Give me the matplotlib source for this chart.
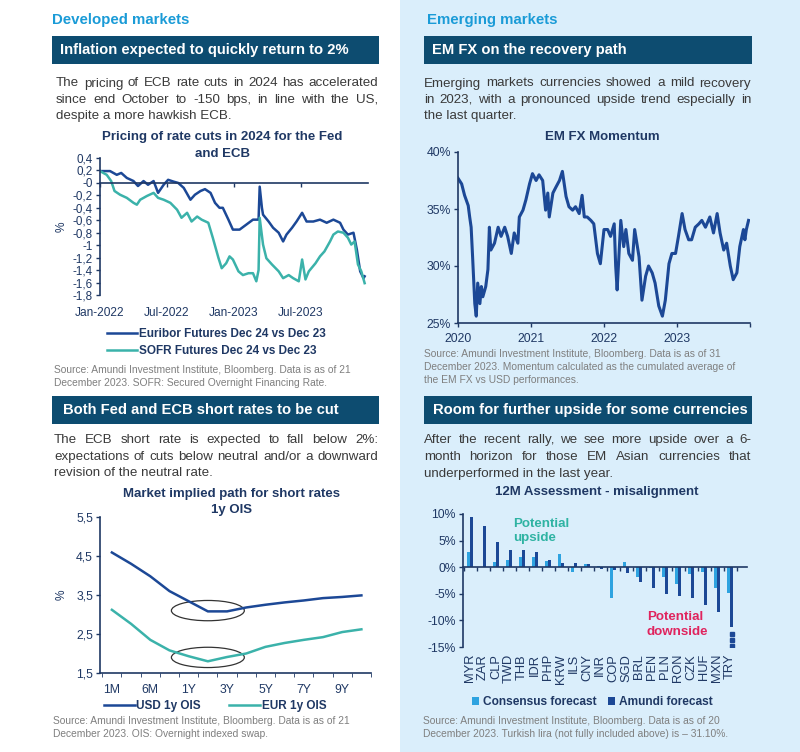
import numpy as np
import matplotlib
matplotlib.use("Agg")
import matplotlib.pyplot as plt
from matplotlib.patches import Rectangle, Ellipse

plt.rcParams['font.family'] = ['Liberation Sans', 'DejaVu Sans']

W, H = 800, 752
NAVY = "#1f3864"
DARK = "#1c4896"
TEAL = "#3bb2aa"
LIGHT = "#2ea3e0"
BANNER = "#0d4c70"
HEAD = "#1a9bd7"
GREY = "#7f7f7f"
BODY = "#3a3a3a"
BG = "#daeefb"

# --- chart 1: pricing of rate cuts (months since Jan-2022) ---
eur_m = [0.0, 0.9, 1.5, 1.9, 2.4, 3.0, 3.4, 3.9, 4.3, 4.8, 5.2, 5.7, 6.1, 6.6, 7.0, 7.5,
         8.1, 8.5, 9.0, 9.4, 9.9, 10.3, 10.7, 11.0, 11.5, 11.9, 12.5, 13.1, 13.7, 14.2,
         14.3, 14.5, 14.6, 15.1, 15.5, 16.0, 16.4, 16.7, 17.2, 17.6, 18.1, 18.5, 19.1,
         19.7, 20.3, 20.9, 21.5, 21.8, 22.2, 22.7, 23.0, 23.3, 23.6, 23.7]
eur_v = [0.19, 0.19, 0.13, 0.16, 0.08, 0.03, -0.05, 0.03, -0.03, 0.03, -0.16, -0.03, 0.05,
         0.02, 0.0, -0.08, -0.27, -0.19, -0.13, -0.10, -0.16, -0.32, -0.40, -0.40, -0.59,
         -0.75, -0.75, -0.67, -0.59, -0.59, -0.06, -0.40, -0.51, -0.62, -0.72, -0.80, -0.94,
         -0.83, -0.72, -0.62, -0.48, -0.62, -0.62, -0.59, -0.64, -0.59, -0.64, -0.75, -0.83,
         -0.80, -1.07, -1.42, -1.53, -1.50]
sofr_m = [0.0, 0.6, 1.0, 1.3, 1.8, 2.4, 3.0, 3.3, 3.6, 4.2, 4.8, 5.2, 5.7, 6.3, 6.9, 7.3,
          7.8, 8.2, 8.7, 9.1, 9.7, 10.1, 10.6, 10.9, 11.3, 11.6, 11.9, 12.4, 12.8, 13.3,
          13.7, 14.0, 14.2, 14.3, 14.6, 14.9, 15.4, 16.0, 16.4, 16.9, 17.3, 17.8, 18.1,
          18.4, 18.7, 19.3, 19.7, 20.1, 20.6, 20.9, 21.3, 21.8, 22.2, 22.5, 22.8, 23.1,
          23.4, 23.7]
sofr_v = [0.19, 0.13, 0.03, -0.13, -0.19, -0.24, -0.32, -0.35, -0.27, -0.21, -0.16, -0.24,
          -0.27, -0.32, -0.43, -0.56, -0.48, -0.62, -0.54, -0.59, -0.64, -0.88, -1.20, -1.37,
          -1.29, -1.18, -1.23, -1.42, -1.48, -1.45, -1.45, -1.58, -1.40, -0.56, -0.99, -1.21,
          -1.31, -1.42, -1.53, -1.48, -1.53, -1.58, -1.23, -1.55, -1.42, -1.29, -1.18, -1.10,
          -0.94, -0.83, -0.78, -0.80, -0.88, -0.99, -0.94, -1.31, -1.42, -1.61]
c1_ticks = [0, 6, 12, 18]
c1_labels = ["Jan-2022", "Jul-2022", "Jan-2023", "Jul-2023"]

# --- chart 2: EM FX momentum ---
fx_t = [2020.00, 2020.05, 2020.09, 2020.14, 2020.16, 2020.18, 2020.20, 2020.23, 2020.25,
        2020.27, 2020.30, 2020.32, 2020.34, 2020.38, 2020.41, 2020.43, 2020.45, 2020.50,
        2020.55, 2020.59, 2020.64, 2020.68, 2020.73, 2020.77, 2020.82, 2020.84, 2020.89,
        2020.93, 2020.98, 2021.02, 2021.07, 2021.11, 2021.16, 2021.20, 2021.23, 2021.25,
        2021.30, 2021.34, 2021.39, 2021.43, 2021.48, 2021.52, 2021.57, 2021.61, 2021.66,
        2021.70, 2021.73, 2021.77, 2021.82, 2021.86, 2021.91, 2021.95, 2022.00, 2022.05,
        2022.09, 2022.14, 2022.16, 2022.18, 2022.23, 2022.27, 2022.30, 2022.34, 2022.39,
        2022.42, 2022.48, 2022.52, 2022.57, 2022.61, 2022.66, 2022.70, 2022.75, 2022.80,
        2022.84, 2022.89, 2022.93, 2022.98, 2023.02, 2023.07, 2023.11, 2023.16, 2023.20,
        2023.25, 2023.30, 2023.34, 2023.39, 2023.45, 2023.50, 2023.55, 2023.59, 2023.64,
        2023.68, 2023.73, 2023.77, 2023.82, 2023.86, 2023.91, 2023.93, 2023.95, 2023.98]
fx_v = [37.7, 37.2, 36.2, 35.3, 34.3, 33.4, 30.8, 26.7, 25.6, 28.5, 26.7, 28.2, 27.3, 28.2,
        29.7, 33.4, 31.4, 32.0, 33.4, 32.6, 33.4, 32.6, 31.1, 32.9, 32.0, 34.3, 34.9, 35.8,
        37.2, 38.1, 37.5, 38.0, 37.5, 34.9, 36.4, 34.3, 36.4, 36.9, 37.5, 38.3, 36.1, 35.2,
        34.9, 35.2, 34.6, 36.2, 34.3, 34.3, 34.0, 33.7, 31.1, 30.2, 33.2, 33.2, 32.6, 33.7,
        30.0, 27.9, 34.0, 31.7, 33.2, 31.1, 30.5, 33.2, 30.8, 27.0, 29.1, 30.0, 29.4, 28.5,
        26.5, 25.6, 27.0, 30.2, 31.1, 31.1, 32.6, 34.6, 33.2, 32.3, 32.3, 33.4, 33.7, 34.0,
        33.4, 34.3, 32.9, 34.6, 32.9, 31.4, 32.0, 30.0, 28.8, 29.4, 31.7, 33.2, 32.3, 33.2,
        34.0]

# --- chart 3: market implied path ---
tenors = ["1M", "3M", "6M", "9M", "1Y", "2Y", "3Y", "4Y", "5Y", "6Y", "7Y", "8Y", "9Y", "10Y"]
usd_ois = [4.59, 4.30, 3.98, 3.60, 3.34, 3.08, 3.08, 3.18, 3.25, 3.31, 3.36, 3.42, 3.45, 3.49]
eur_ois = [3.12, 2.76, 2.35, 2.08, 1.93, 1.80, 1.91, 2.00, 2.17, 2.27, 2.35, 2.42, 2.55, 2.62]
tenor_labels = ["1M", "", "6M", "", "1Y", "", "3Y", "", "5Y", "", "7Y", "", "9Y", ""]
ell_tenor = "2Y"
ell_y = [3.10, 1.90]

# --- chart 4: misalignment ---
ccy = ["MYR", "ZAR", "CLP", "TWD", "THB", "IDR", "PHP", "KRW", "ILS", "CNY", "INR",
       "COP", "SGD", "BRL", "PEN", "PLN", "RON", "CZK", "HUF", "MXN", "TRY"]
consensus = [2.8, 0.0, 0.9, 1.4, 1.9, 1.9, 1.1, 2.5, -0.9, 0.6, 0.25,
             -5.8, 0.9, -1.9, -0.2, -1.8, -3.1, -1.3, -0.9, -3.9, -4.8]
amundi = [9.4, 7.7, 4.7, 3.3, 3.3, 2.8, 1.4, 0.75, 0.75, 0.6, -0.25,
          -0.6, -1.1, -2.7, -3.9, -5.0, -5.5, -5.8, -7.1, -8.5, -31.1]
cut_level = -11.3


def px_axes(x0, y0, x1, y1):
    return fig.add_axes([x0 / W, 1 - y1 / H, (x1 - x0) / W, (y1 - y0) / H])


def ftext(x, y, s, **kw):
    return fig.text(x / W, 1 - y / H, s, **kw)


def banner(x0, x1, y0, y1, s, tx):
    fig.add_artist(Rectangle((x0 / W, 1 - y1 / H), (x1 - x0) / W, (y1 - y0) / H,
                             transform=fig.transFigure, color=BANNER, lw=0))
    ftext(tx, (y0 + y1) / 2, s, color="white", fontsize=10.6, fontweight="bold", va="center")


def para(x0, x1, y, lines, lh=16.5, size=9.6):
    # justified paragraph, last line left aligned
    r = fig.canvas.get_renderer()
    for k, line in enumerate(lines):
        yy = y + k * lh + 4.5
        words = line.split()
        if k == len(lines) - 1:
            ftext(x0, yy, line, color=BODY, fontsize=size, va="baseline")
            continue
        arts = [ftext(0, yy, w, color=BODY, fontsize=size, va="baseline") for w in words]
        widths = [a.get_window_extent(r).width for a in arts]
        gap = (x1 - x0 - sum(widths)) / (len(words) - 1)
        x = x0
        for a, w in zip(arts, widths):
            a.set_x(x / W)
            x += w + gap


def style(ax):
    for s in ["top", "right"]:
        ax.spines[s].set_visible(False)
    for s in ["left", "bottom"]:
        ax.spines[s].set_color(NAVY)
        ax.spines[s].set_linewidth(1.2)
    ax.tick_params(colors=NAVY, labelsize=8.4, length=3, width=1, pad=2)
    ax.patch.set_alpha(0)


fig = plt.figure(figsize=(W / 100, H / 100), dpi=100)
fig.add_artist(Rectangle((0.5, 0), 0.5, 1, transform=fig.transFigure, color=BG, lw=0, zorder=-5))

ftext(52, 20, "Developed markets", color=HEAD, fontsize=10.8, fontweight="bold", va="center")
ftext(427, 20, "Emerging markets", color=HEAD, fontsize=10.8, fontweight="bold", va="center")
banner(52, 379, 36, 64, "Inflation expected to quickly return to 2%", 60)
banner(424, 752, 36, 64, "EM FX on the recovery path", 432)
banner(52, 379, 396, 424, "Both Fed and ECB short rates to be cut", 63)
banner(424, 752, 396, 424, "Room for further upside for some currencies", 433)

para(56, 378, 82, ["The pricing of ECB rate cuts in 2024 has accelerated",
                   "since end October to -150 bps, in line with the US,",
                   "despite a more hawkish ECB."])
para(424, 751, 82, ["Emerging markets currencies showed a mild recovery",
                    "in 2023, with a pronounced upside trend especially in",
                    "the last quarter."])
para(54, 378, 439, ["The ECB short rate is expected to fall below 2%:",
                    "expectations of cuts below neutral and/or a downward",
                    "revision of the neutral rate."])
para(424, 751, 439, ["After the recent rally, we see more upside over a 6-",
                     "month horizon for those EM Asian currencies that",
                     "underperformed in the last year."])

tkw = dict(color=NAVY, fontsize=9.5, fontweight="bold", ha="center", va="center")
ftext(222, 137, "Pricing of rate cuts in 2024 for the Fed", **tkw)
ftext(222, 154, "and ECB", **tkw)
ftext(602, 137, "EM FX Momentum", **tkw)
ftext(232, 494, "Market implied path for short rates", **tkw)
ftext(232, 510, "1y OIS", **tkw)
ftext(597, 492, "12M Assessment - misalignment", **tkw)

skw = dict(color=GREY, fontsize=7.4, va="center")
ftext(54, 370, "Source: Amundi Investment Institute, Bloomberg. Data is as of 21", **skw)
ftext(54, 383, "December 2023. SOFR: Secured Overnight Financing Rate.", **skw)
ftext(424, 354, "Source: Amundi Investment Institute, Bloomberg. Data is as of 31", **skw)
ftext(424, 367, "December 2023. Momentum calculated as the cumulated average of", **skw)
ftext(424, 380, "the EM FX vs USD performances.", **skw)
ftext(53, 721, "Source: Amundi Investment Institute, Bloomberg. Data is as of 21", **skw)
ftext(53, 734, "December 2023. OIS: Overnight indexed swap.", **skw)
ftext(423, 721, "Source: Amundi Investment Institute, Bloomberg. Data is as of 20", **skw)
ftext(423, 734, "December 2023. Turkish lira (not fully included above) is \u2013 31.10%.", **skw)

# chart 1
ax1 = px_axes(100, 158, 368, 295)
style(ax1)
ax1.plot(eur_m, eur_v, color=DARK, lw=1.8, label="Euribor Futures Dec 24 vs Dec 23")
ax1.plot(sofr_m, sofr_v, color=TEAL, lw=1.8, label="SOFR Futures Dec 24 vs Dec 23")
ax1.set_xlim(0, 24)
ax1.set_ylim(-1.8, 0.4)
yt = np.round(np.arange(-1.8, 0.41, 0.2), 1)
ax1.set_yticks(yt, [("%g" % v).replace(".", ",") for v in yt])
ax1.spines["bottom"].set_position(("data", 0))
ax1.set_xticks(c1_ticks, [""] * len(c1_ticks))
sec = ax1.secondary_xaxis("bottom")
sec.set_xticks(c1_ticks, c1_labels)
sec.spines["bottom"].set_visible(False)
sec.tick_params(length=0, colors=NAVY, labelsize=8.6, pad=9)
ax1.set_ylabel("%", color=NAVY, fontsize=8.6, labelpad=4)
ax1.legend(loc="upper left", bbox_to_anchor=(107 / W, 1 - 328 / H), bbox_transform=fig.transFigure,
           frameon=False, borderpad=0, borderaxespad=0, handlelength=2.5, handletextpad=0.2,
           labelspacing=0.4, prop=dict(size=8.5, weight="bold"), labelcolor=NAVY)

# chart 2
ax2 = px_axes(458, 152, 750, 323)
style(ax2)
ax2.plot(fx_t, fx_v, color=DARK, lw=2.2)
ax2.set_xlim(2020, 2024)
ax2.set_ylim(25, 40)
ax2.set_xticks([2020, 2021, 2022, 2023, 2024], ["2020", "2021", "2022", "2023", ""])
ax2.set_yticks([25, 30, 35, 40], ["25%", "30%", "35%", "40%"])
ax2.tick_params(labelsize=8.8)
ax2.tick_params(axis="x", pad=4)

# chart 3
ax3 = px_axes(100, 517, 371, 673)
style(ax3)
xs = np.arange(len(tenors))
ax3.plot(xs, usd_ois, color=DARK, lw=1.8, label="USD 1y OIS")
ax3.plot(xs, eur_ois, color=TEAL, lw=1.8, label="EUR 1y OIS")
ax3.set_xlim(-0.62, 13.47)
ax3.set_ylim(1.5, 5.5)
ax3.set_yticks([1.5, 2.5, 3.5, 4.5, 5.5], ["1,5", "2,5", "3,5", "4,5", "5,5"])
ax3.tick_params(axis="y", labelsize=8.8)
ax3.set_xticks(xs, tenor_labels)
ax3.set_xticks(np.arange(len(tenors) + 1) - 0.5, minor=True)
ax3.tick_params(axis="x", which="major", length=0, pad=8, labelsize=8.8)
ax3.tick_params(axis="x", which="minor", length=3, color=NAVY)
ax3.set_ylabel("%", color=NAVY, fontsize=8.6, labelpad=6)
ex = tenors.index(ell_tenor)
for ey in ell_y:
    ax3.add_patch(Ellipse((ex, ey), 3.8, 0.52, fill=False, ec="#333333", lw=0.9))
ax3.legend(loc="upper left", bbox_to_anchor=(104 / W, 1 - 700 / H), bbox_transform=fig.transFigure,
           ncol=2, frameon=False, borderpad=0, borderaxespad=0, handlelength=2.6,
           handletextpad=0.15, columnspacing=2.4, prop=dict(size=8.5, weight="bold"),
           labelcolor=NAVY)

# chart 4
ax4 = px_axes(463, 514, 747, 647)
style(ax4)
xb = np.arange(len(ccy))
shown = np.maximum(amundi, cut_level)
ax4.bar(xb - 0.13, consensus, width=0.26, color=LIGHT, label="Consensus forecast")
ax4.bar(xb + 0.13, shown, width=0.26, color=DARK, label="Amundi forecast")
ti = ccy.index("TRY")
ax4.plot([ti + 0.13] * 3, [-12.6, -13.7, -14.8], ls="none", marker="s", ms=2.6, color=DARK)
ax4.set_xlim(-0.54, 21.3)
ax4.set_ylim(-15, 10)
ax4.set_yticks([-15, -10, -5, 0, 5, 10], ["-15%", "-10%", "-5%", "0%", "5%", "10%"])
ax4.tick_params(labelsize=8.8)
ax4.spines["bottom"].set_position(("data", 0))
ax4.set_xticks(np.arange(len(ccy) + 1) - 0.5, [""] * (len(ccy) + 1))
sec4 = ax4.secondary_xaxis("bottom")
sec4.set_xticks(xb, ccy, rotation=90)
sec4.spines["bottom"].set_visible(False)
sec4.tick_params(length=0, colors=NAVY, labelsize=9.3, pad=5)
ax4.text(3.3, 6.8, "Potential\nupside", color="#2fb3a3", fontsize=9.6, fontweight="bold",
         va="center", linespacing=1.3)
ax4.text(13.6, -10.8, "Potential\ndownside", color="#e0245e", fontsize=9.6, fontweight="bold",
         va="center", linespacing=1.3)
ax4.legend(loc="upper left", bbox_to_anchor=(472 / W, 1 - 696 / H), bbox_transform=fig.transFigure,
           ncol=2, frameon=False, borderpad=0, borderaxespad=0, handlelength=0.6, handleheight=0.6,
           handletextpad=0.3, columnspacing=1.0, prop=dict(size=8.6, weight="bold"),
           labelcolor=NAVY)

fig.savefig("out.png", dpi=100)
